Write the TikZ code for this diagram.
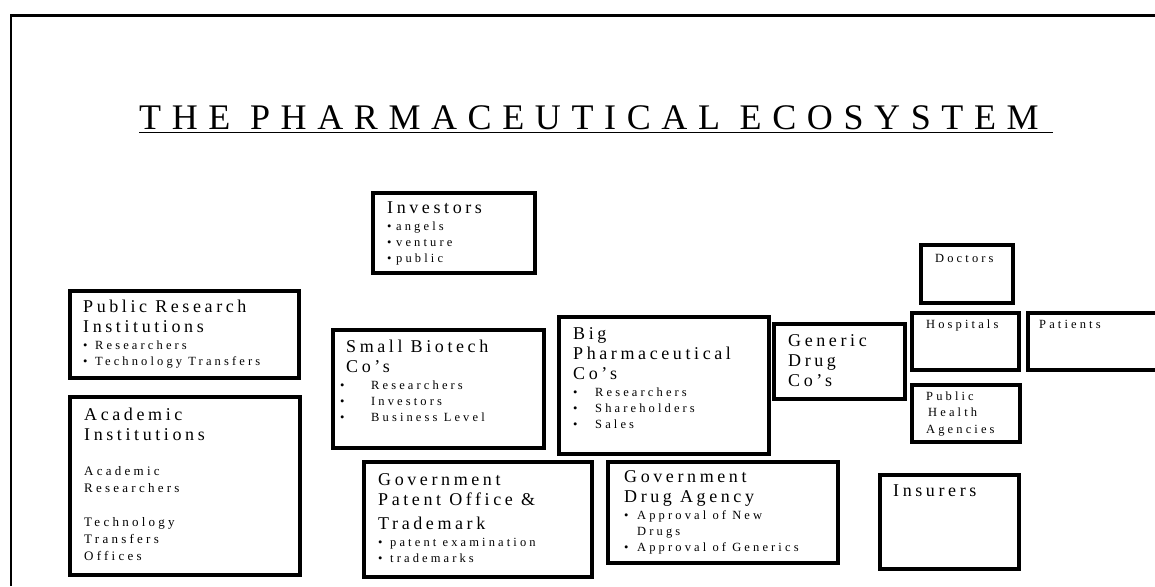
\documentclass[tikz,border=0pt]{standalone}
\usepackage{fontspec}
\setmainfont{Liberation Serif}
\newfontfamily\headfont[LetterSpace=20]{Liberation Serif}
\newfontfamily\itemfont[LetterSpace=25]{Liberation Serif}
\newfontfamily\titlefont[LetterSpace=29.5]{Liberation Serif}
\newcommand\hd{\headfont\fontsize{18}{20}\selectfont\spaceskip=0pt\xspaceskip=0pt}
\newcommand\sm{\itemfont\fontsize{12.5}{16}\selectfont\spaceskip=0pt\xspaceskip=0pt}
\newcommand\bul[1]{\makebox[#1][l]{•}}

\begin{document}
\begin{tikzpicture}[x=1pt, y=-1pt,
  box/.style={line width=3.4pt},
  txt/.style={inner sep=0pt, anchor=base west, align=left, text width=#1}]

\useasboundingbox (0,0) rectangle (1155,586);
\clip (0,0) rectangle (1155,586);

% frame
\draw [line width=2.6pt] (11,586)--(11,15.5)--(1155,15.5);

% title
\node [inner sep=0pt, anchor=base west] (title) at (139,129)
  {\titlefont\fontsize{36}{40}\selectfont THE PHARMACEUTICAL ECOSYSTEM};
\draw [line width=1.4pt] ([yshift=-3.5pt]title.base west)--([xshift=14pt, yshift=-3.5pt]title.base east);

% boxes
\foreach \xa/\ya/\xb/\yb in {373/193/535/273, 70/291/299/378, 70/397/300/575,
  333/330/544/448, 559/317/769/454, 774/324/905/399, 921/245/1013/303,
  912/313/1019/370, 1028/313/1175/370, 912/385/1020/442, 880/475/1019/569,
  364/462/592/577, 608/462/838/563}
{
  \draw [box] (\xa,\ya) rectangle (\xb,\yb);
}

% texts
\node [txt=150pt] (investors) at (387,213)
  {{\hd Investors\par}\vspace{1pt}{\sm\bul{9pt}angels\par\bul{9pt}venture\par\bul{9pt}public\par}};
\node [txt=210pt] (research) at (83,312)
  {{\hd Public Research\\Institutions\par}\vspace{1pt}{\sm\bul{12pt}Researchers\par\bul{12pt}Technology Transfers\par}};
\node [txt=210pt] (academic) at (84,420)
  {{\hd Academic\\Institutions\par}\vspace{18pt}{\sm\fontsize{13}{17}\selectfont Academic\\Researchers\par}\vspace{17pt}{\sm\fontsize{13}{17}\selectfont Technology\\Transfers\\Offices\par}};
\node [txt=190pt] (biotech) at (346,352)
  {{\hd Small Biotech\\Co’s\par}\vspace{1pt}{\sm\hspace*{-6pt}\bul{31pt}Researchers\par\hspace*{-6pt}\bul{31pt}Investors\par\hspace*{-6pt}\bul{31pt}Business Level\par}};
\node [txt=190pt] (pharma) at (573,339)
  {{\hd Big\\Pharmaceutical\\Co’s\par}\vspace{1pt}{\sm\bul{22pt}Researchers\par\bul{22pt}Shareholders\par\bul{22pt}Sales\par}};
\node [txt=115pt] (generic) at (788,346) {\hd Generic\\Drug\\Co’s\par};
\node [txt=80pt] (doctors) at (935,262) {\sm Doctors\par};
\node [txt=90pt] (hospitals) at (926,328) {\sm Hospitals\par};
\node [txt=110pt] (patients) at (1039,328) {\sm Patients\par};
\node [txt=90pt] (health) at (926,400) {\sm\baselineskip=16.5pt Public\\\hspace*{2pt}Health\\Agencies\par};
\node [txt=120pt] (insurers) at (893,496) {\hd Insurers\par};
\node [txt=210pt] (patent) at (378,485)
  {{\hd Government\\Patent Office \&\\[4pt]Trademark\par}\vspace{1pt}{\sm\bul{12pt}patent examination\par\bul{12pt}trademarks\par}};
\node [txt=210pt] (agency) at (624,482)
  {{\hd Government\\Drug Agency\par}\vspace{1pt}{\sm\bul{13pt}Approval of New\\\hspace*{13pt}Drugs\par\bul{13pt}Approval of Generics\par}};

\end{tikzpicture}
\end{document}
